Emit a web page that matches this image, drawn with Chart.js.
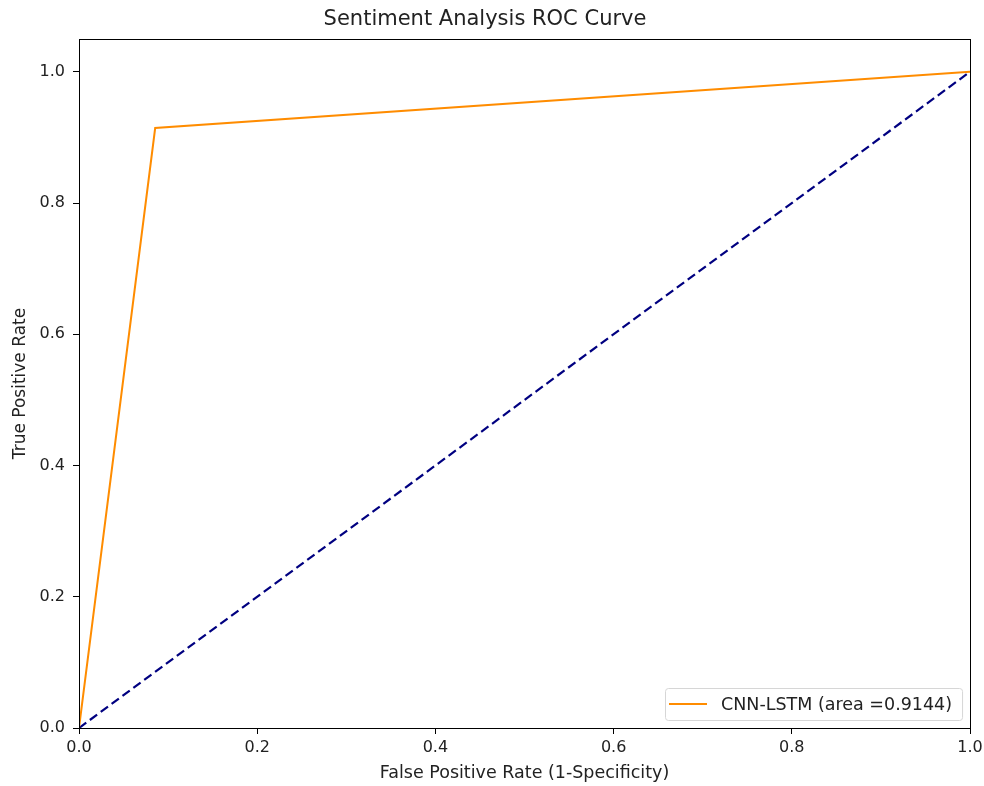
<!DOCTYPE html>
<html><head><meta charset="utf-8">
<script src="https://cdn.jsdelivr.net/npm/chart.js@4"></script>
<style>html,body{margin:0;padding:0;background:#fff}#wrap{width:984px;height:786px}</style>
</head><body><div id="wrap"><canvas id="c" width="984" height="786"></canvas></div>
<script>
const fpr = [0.0, 0.0855, 1.0];
const tpr = [0.0, 0.9143, 1.0];
const chanceX = [0.0, 1.0];
const chanceY = [0.0, 1.0];
const yTickValues = [0.0, 0.2, 0.4, 0.6, 0.8, 1.0];
const seriesLabel = 'CNN-LSTM (area =0.9144)';
const titleText = 'Sentiment Analysis ROC Curve';
const xTitle = 'False Positive Rate (1-Specificity)';
const yTitle = 'True Positive Rate';

const FONT = "'DejaVu Sans', sans-serif";

const framePlugin = {
  id: 'frame',
  afterDatasetsDraw(chart) {
    const {ctx, chartArea: a} = chart;
    ctx.save();
    ctx.strokeStyle = '#000'; ctx.lineWidth = 1;
    ctx.strokeRect(Math.round(a.left)+0.5, Math.round(a.top)+0.5, Math.round(a.right-a.left), Math.round(a.bottom-a.top));
    // legend
    const ds = chart.data.datasets[0];
    ctx.font = "17.5px " + FONT;
    const tw = ctx.measureText(ds.label).width;
    const h = 32, w = tw + 66;
    const x = Math.round(a.right - 8 - w), y = Math.round(a.bottom - 8 - h);
    ctx.fillStyle = 'rgba(255,255,255,0.8)';
    ctx.strokeStyle = '#d6d6d6'; ctx.lineWidth = 1;
    ctx.beginPath();
    if (ctx.roundRect) ctx.roundRect(x+0.5, y+0.5, w, h, 3); else ctx.rect(x+0.5,y+0.5,w,h);
    ctx.fill(); ctx.stroke();
    ctx.strokeStyle = ds.borderColor; ctx.lineWidth = 2;
    ctx.beginPath(); ctx.moveTo(x+4, y+h/2); ctx.lineTo(x+42, y+h/2); ctx.stroke();
    ctx.fillStyle = '#222'; ctx.textBaseline = 'middle';
    ctx.fillText(ds.label, x+56, y+h/2+1);
    ctx.restore();
  }
};

new Chart(document.getElementById('c'), {
  type: 'scatter',
  data: {
    datasets: [
      { label: seriesLabel, data: fpr.map((v,i)=>({x:v,y:tpr[i]})), showLine: true,
        borderColor: '#ff8c00', backgroundColor: '#ff8c00', borderWidth: 2, pointRadius: 0, tension: 0 },
      { label: 'chance', data: chanceX.map((v,i)=>({x:v,y:chanceY[i]})), showLine: true,
        borderColor: '#000080', borderWidth: 2.2, borderDash: [9,4.5], pointRadius: 0, tension: 0 }
    ]
  },
  options: {
    responsive: false, animation: false, devicePixelRatio: 1,
    layout: { padding: { left: 0, right: 14, top: 0, bottom: 0 } },
    plugins: {
      legend: { display: false }, tooltip: { enabled: false },
      title: { display: true, text: titleText, color: '#222', font: { family: FONT, size: 21, weight: 'normal' }, padding: { top: 7.4, bottom: 6.4 } }
    },
    scales: {
      x: {
        type: 'linear', min: 0, max: 1,
        afterFit(s) { s.height = 58; s.paddingRight = 0; s.paddingLeft = 0; },
        grid: { display: true, drawOnChartArea: false, drawTicks: true, tickLength: 6, color: '#000' },
        border: { display: true, color: '#000' },
        ticks: { stepSize: 0.2, color: '#222', font: { family: FONT, size: 16 }, padding: 4, maxRotation: 0,
          callback: v => Number(v).toFixed(1) },
        title: { display: true, text: xTitle, color: '#222', font: { family: FONT, size: 17.5 }, padding: { top: 4, bottom: 2 } }
      },
      y: {
        type: 'linear', min: 0, max: 1.05,
        afterFit(s) { s.width = 79; s.paddingTop = 0; s.paddingBottom = 0; },
        afterBuildTicks(s) { s.ticks = yTickValues.map(v=>({value:v})); },
        grid: { display: true, drawOnChartArea: false, drawTicks: true, tickLength: 6, color: '#000' },
        border: { display: true, color: '#000' },
        ticks: { color: '#222', font: { family: FONT, size: 16 }, padding: 8,
          callback: v => Number(v).toFixed(1) },
        title: { display: true, text: yTitle, color: '#222', font: { family: FONT, size: 17 }, padding: { top: 10, bottom: 6 } }
      }
    }
  },
  plugins: [framePlugin]
});
</script>
</body></html>
